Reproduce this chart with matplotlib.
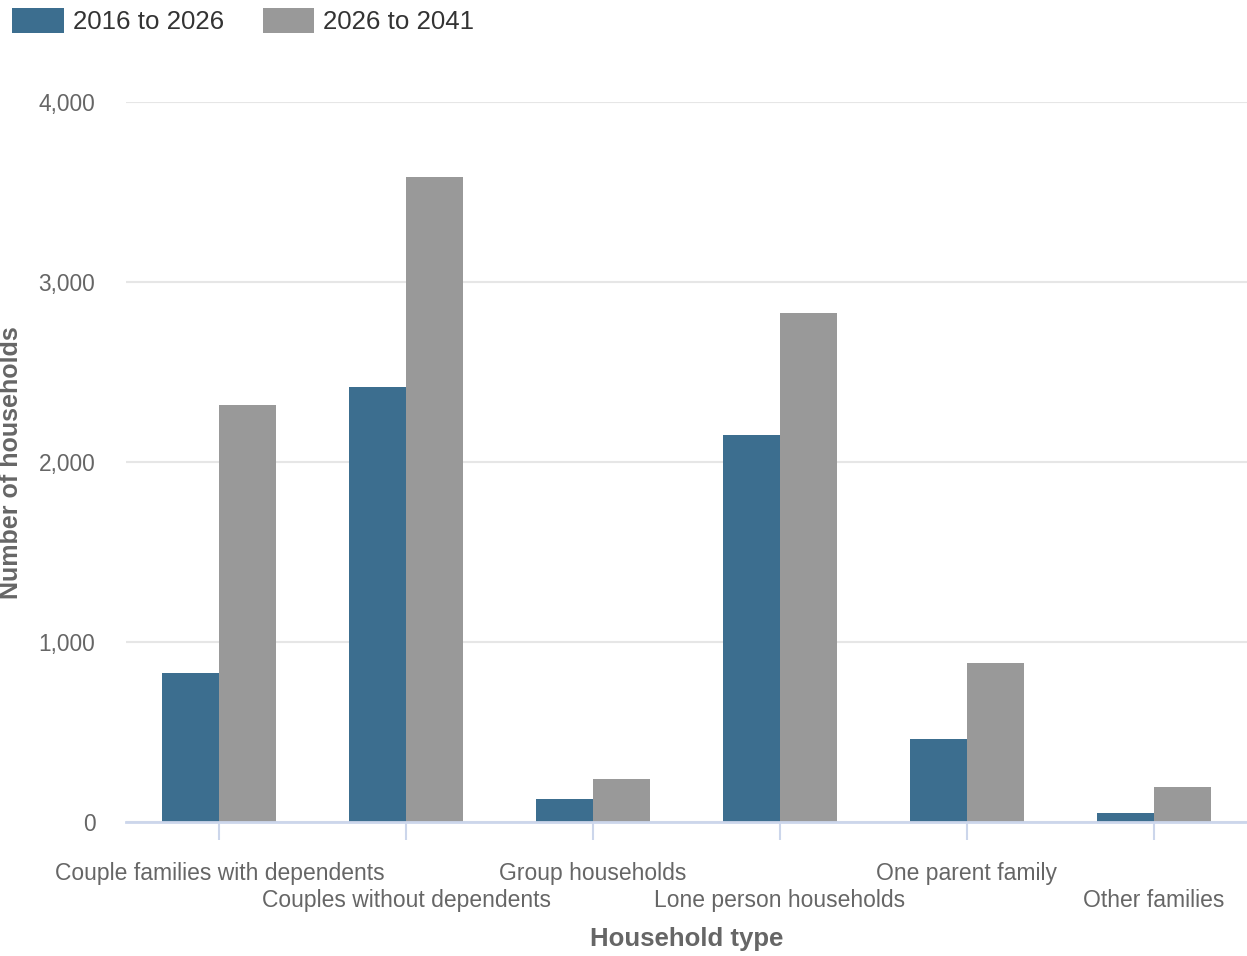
import matplotlib.pyplot as plt
import numpy as np

categories = ["Couple families with dependents", "Couples without dependents",
              "Group households", "Lone person households",
              "One parent family", "Other families"]
series_names = ["2016 to 2026", "2026 to 2041"]
vals_2016_2026 = [828, 2417, 128, 2150, 461, 50]
vals_2026_2041 = [2317, 3583, 239, 2828, 883, 194]
yticks = [0, 1000, 2000, 3000, 4000]

plt.rcParams['font.family'] = ['Liberation Sans', 'DejaVu Sans']

fig = plt.figure(figsize=(12.47, 9.56), dpi=100)
ax = fig.add_axes([0.101, 0.140, 0.899, 0.753])

x = np.arange(len(categories))
w = 0.305
ax.bar(x - w / 2, vals_2016_2026, w, color='#3c6e8f', label=series_names[0], zorder=3)
ax.bar(x + w / 2, vals_2026_2041, w, color='#999999', label=series_names[1], zorder=3)

ax.set_xlim(-0.5, len(categories) - 0.5)
ax.set_ylim(0, 4000)
ax.set_yticks(yticks)
ax.set_yticklabels([f"{v:,}" for v in yticks])
ax.grid(axis='y', color='#e6e6e6', linewidth=1.5, zorder=0)

ax.set_xticks(x)
ax.set_xticklabels(categories, fontsize=16.5, color='#666666')
ax.tick_params(axis='x', length=13, width=1.5, color='#ccd6eb', pad=16)
# stagger the category labels on two rows
for i, t in enumerate(ax.xaxis.get_major_ticks()):
    if i % 2 == 1:
        t.set_pad(35)
ax.tick_params(axis='y', length=0, labelsize=16.4, labelcolor='#666666', pad=22)

for side in ['top', 'right', 'left']:
    ax.spines[side].set_visible(False)
ax.spines['bottom'].set_color('#ccd6eb')
ax.spines['bottom'].set_linewidth(2)
ax.spines['bottom'].set_zorder(4)

ax.set_xlabel("Household type", fontsize=18.5, fontweight='bold', color='#666666', labelpad=11)
ax.set_ylabel("Number of households", fontsize=18, fontweight='bold', color='#666666')
ax.yaxis.set_label_coords(-0.0915, 0.5)

fig.legend(loc='upper left', bbox_to_anchor=(-0.009, 1.016), ncol=2, frameon=False,
           fontsize=18.6, handlelength=2.0, handleheight=1.1, handletextpad=0.35,
           columnspacing=1.5, labelcolor='#333333')

plt.savefig('out.png', dpi=100)
